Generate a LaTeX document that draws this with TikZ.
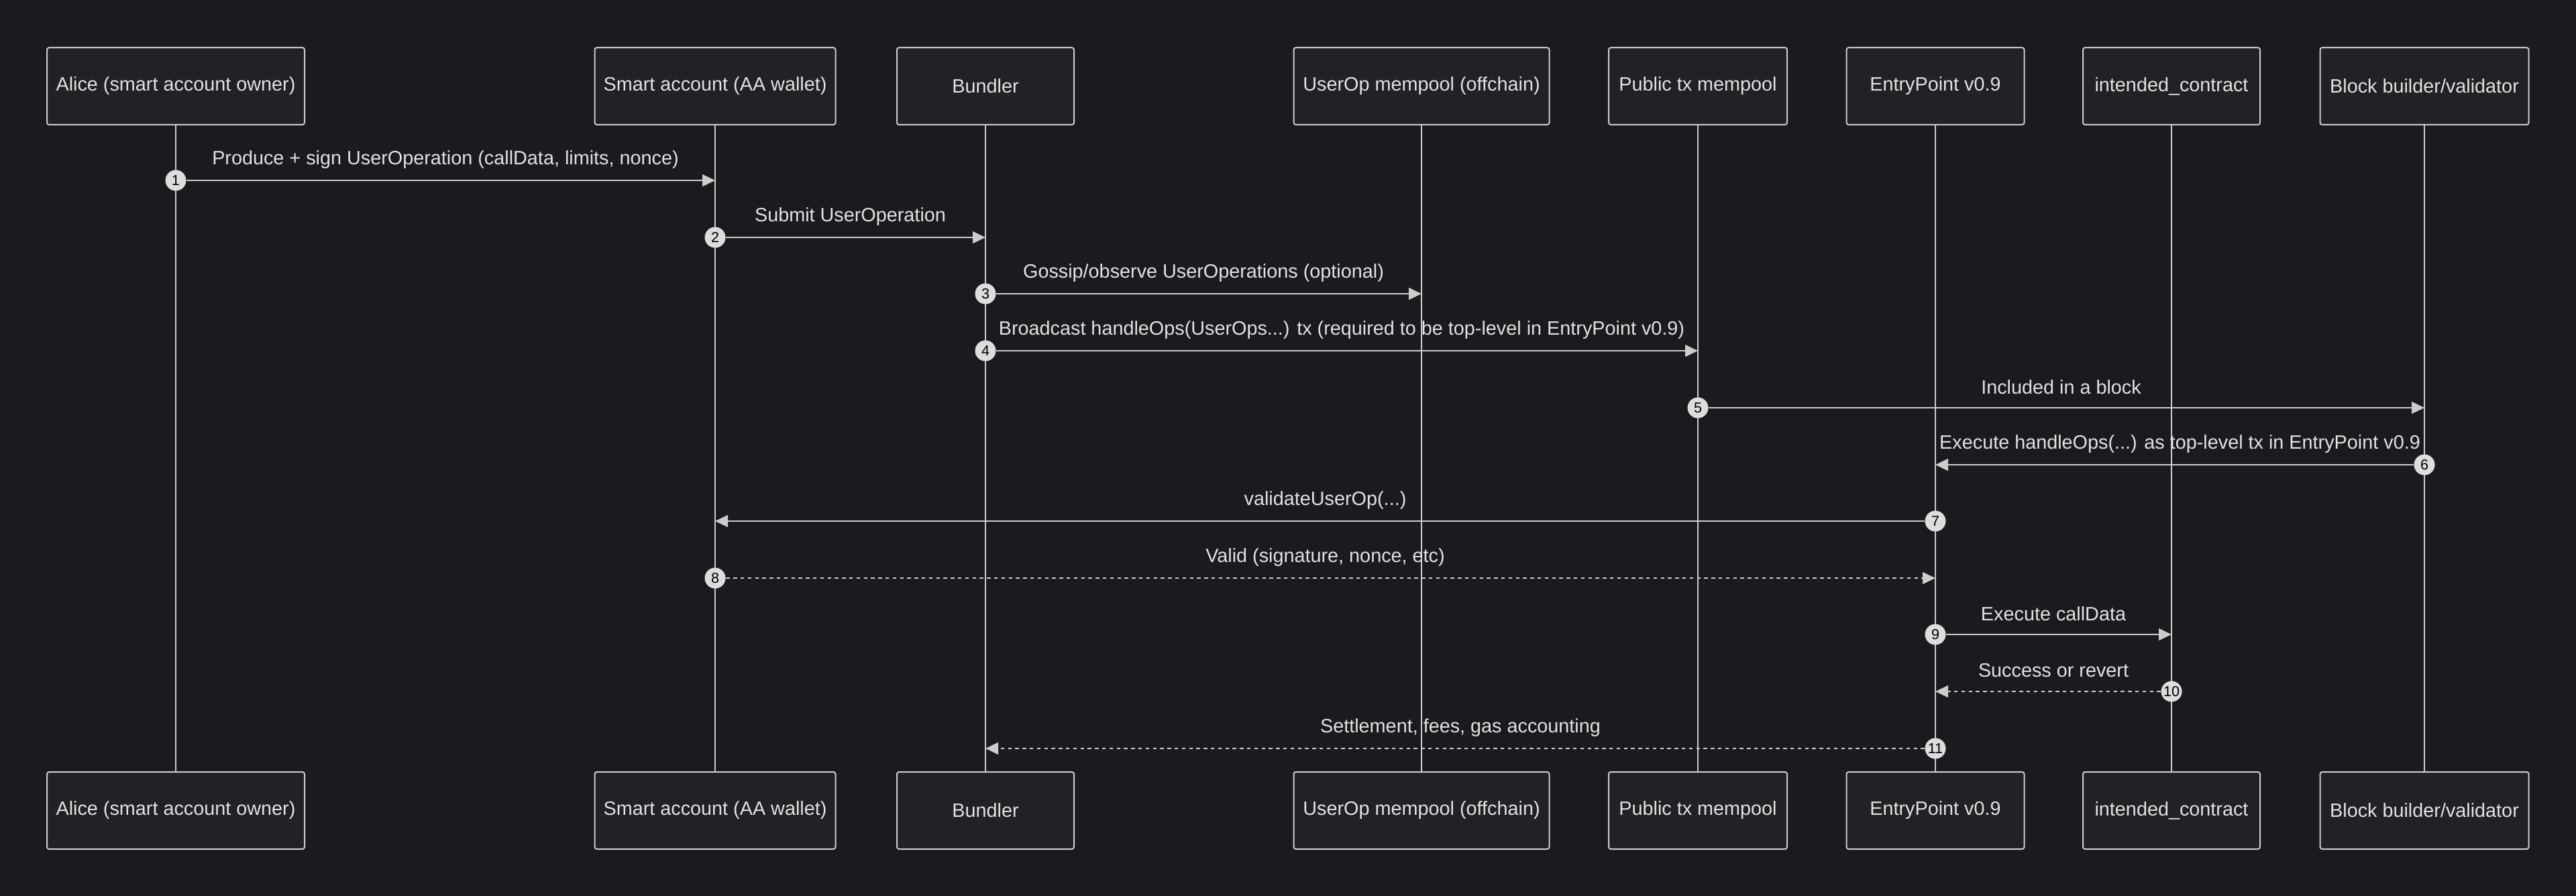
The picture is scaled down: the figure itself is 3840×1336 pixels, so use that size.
\documentclass[tikz,border=0pt]{standalone}
\usepackage{fontspec}
\setmainfont{Liberation Sans}
\usetikzlibrary{arrows.meta}
\definecolor{bg}{HTML}{1B1A1E}
\definecolor{boxfill}{HTML}{222226}
\definecolor{ln}{HTML}{CCCCCC}
\definecolor{tx}{HTML}{E2E2E2}
\definecolor{numfill}{HTML}{DDDDDD}
\begin{document}
\begin{tikzpicture}[x=0.25pt,y=-0.25pt,
  actor/.style={draw=ln, fill=boxfill, rounded corners=0.8pt, line width=0.5pt,
    minimum height=28.75pt, inner sep=0pt, text=tx, font=\fontsize{7.2}{8.6}\selectfont},
  lifeline/.style={draw=ln, line width=0.55pt},
  msg/.style={draw=ln, line width=0.7pt, -{Triangle[length=4.75pt,width=4.4pt]}},
  reply/.style={msg, dash pattern=on 1.35pt off 1.35pt},
  num/.style={circle, fill=numfill, minimum size=7.75pt, inner sep=0pt,
    text=black, font=\fontsize{5.4}{6}\selectfont},
  lbl/.style={text=tx, font=\fontsize{7.2}{8.6}\selectfont, inner sep=0pt}]
\fill[bg] (0,0) rectangle (3840,1336);
\useasboundingbox (0,0) rectangle (3840,1336);
% participants top
\node[actor, minimum width=96pt]    (aT) at (262,128.5)  {Alice (smart account owner)};
\node[actor, minimum width=89.75pt] (sT) at (1066,128.5) {Smart account (AA wallet)};
\node[actor, minimum width=66pt]    (bT) at (1469,128.5) {Bundler};
\node[actor, minimum width=95.25pt] (uT) at (2119,128.5) {UserOp mempool (offchain)};
\node[actor, minimum width=66.5pt]  (pT) at (2531,128.5) {Public tx mempool};
\node[actor, minimum width=66.25pt] (eT) at (2885,128.5) {EntryPoint v0.9};
\node[actor, minimum width=66pt]    (iT) at (3237,128.5) {intended\_contract};
\node[actor, minimum width=77.75pt] (kT) at (3614,128.5) {Block builder/validator};
% participants bottom
\node[actor, minimum width=96pt]    (aB) at (262,1208.5)  {Alice (smart account owner)};
\node[actor, minimum width=89.75pt] (sB) at (1066,1208.5) {Smart account (AA wallet)};
\node[actor, minimum width=66pt]    (bB) at (1469,1208.5) {Bundler};
\node[actor, minimum width=95.25pt] (uB) at (2119,1208.5) {UserOp mempool (offchain)};
\node[actor, minimum width=66.5pt]  (pB) at (2531,1208.5) {Public tx mempool};
\node[actor, minimum width=66.25pt] (eB) at (2885,1208.5) {EntryPoint v0.9};
\node[actor, minimum width=66pt]    (iB) at (3237,1208.5) {intended\_contract};
\node[actor, minimum width=77.75pt] (kB) at (3614,1208.5) {Block builder/validator};
% lifelines
\foreach \p in {a,s,b,u,p,e,i,k} { \draw[lifeline] (\p T.south) -- (\p B.north); }
% message number badges
\node[num] (n1)  at (262,269)   {1};
\node[num] (n2)  at (1066,354)  {2};
\node[num] (n3)  at (1469,438)  {3};
\node[num] (n4)  at (1469,523)  {4};
\node[num] (n5)  at (2531,608)  {5};
\node[num] (n6)  at (3614,693)  {6};
\node[num] (n7)  at (2885,777)  {7};
\node[num] (n8)  at (1066,862)  {8};
\node[num] (n9)  at (2885,946)  {9};
\node[num] (n10) at (3237,1031) {10};
\node[num] (n11) at (2885,1116) {11};
% targets
\coordinate (t1)  at (1066,269);
\coordinate (t2)  at (1469,354);
\coordinate (t3)  at (2119,438);
\coordinate (t4)  at (2531,523);
\coordinate (t5)  at (3614,608);
\coordinate (t6)  at (2885,693);
\coordinate (t7)  at (1066,777);
\coordinate (t8)  at (2885,862);
\coordinate (t9)  at (3237,946);
\coordinate (t10) at (2885,1031);
\coordinate (t11) at (1469,1116);
% messages
\draw[msg]   (n1)  -- (t1);
\draw[msg]   (n2)  -- (t2);
\draw[msg]   (n3)  -- (t3);
\draw[msg]   (n4)  -- (t4);
\draw[msg]   (n5)  -- (t5);
\draw[msg]   (n6)  -- (t6);
\draw[msg]   (n7)  -- (t7);
\draw[reply] (n8)  -- (t8);
\draw[msg]   (n9)  -- (t9);
\draw[reply] (n10) -- (t10);
\draw[reply] (n11) -- (t11);
% labels
\node[lbl] (l1)  at (664,238)   {Produce + sign UserOperation (callData, limits, nonce)};
\node[lbl] (l2)  at (1267.5,323) {Submit UserOperation};
\node[lbl] (l3)  at (1794,407)  {Gossip/observe UserOperations (optional)};
\node[lbl] (l4)  at (2000,492)  {Broadcast handleOps(UserOps...) tx (required to be top-level in EntryPoint v0.9)};
\node[lbl] (l5)  at (3072.5,577) {Included in a block};
\node[lbl] (l6)  at (3249.5,662) {Execute handleOps(...) as top-level tx in EntryPoint v0.9};
\node[lbl] (l7)  at (1975.5,746) {validateUserOp(...)};
\node[lbl] (l8)  at (1975.5,831) {Valid (signature, nonce, etc)};
\node[lbl] (l9)  at (3061,915)  {Execute callData};
\node[lbl] (l10) at (3061,1000) {Success or revert};
\node[lbl] (l11) at (2177,1085) {Settlement, fees, gas accounting};
\end{tikzpicture}
\end{document}
